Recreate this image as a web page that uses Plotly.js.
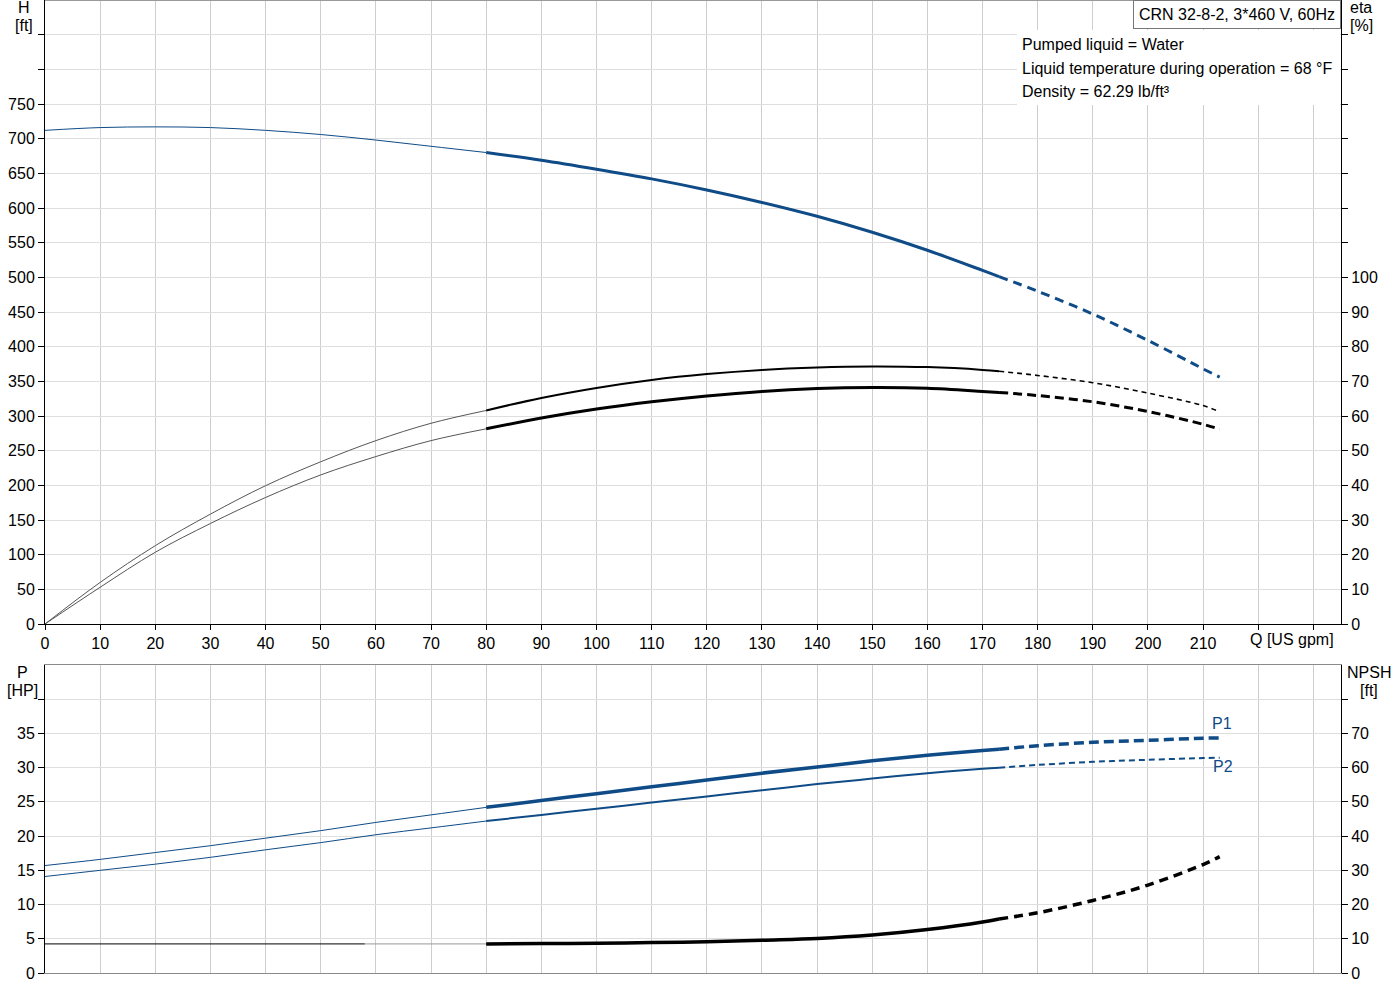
<!DOCTYPE html>
<html><head><meta charset="utf-8">
<script src="https://cdn.plot.ly/plotly-3.0.1.min.js"></script>
<style>html,body{margin:0;padding:0;background:#fff}</style>
</head><body>
<div id="chart" style="width:1400px;height:1000px"></div>
<script>
// ---- Flow values (US gpm) for each curve segment ----
const qThin = [0, 10, 20, 30, 40, 50, 60, 70, 80];
const qMain = [80, 90, 100, 110, 120, 130, 140, 150, 160, 170, 173];
const qExt  = [173, 180, 190, 200, 210, 213];

// ---- Head H [ft] ----
const headThin = [712, 716, 717, 716, 712, 706, 698, 689, 680];
const headMain = [680, 669, 656, 642, 626, 608, 588, 565, 539, 510, 501];
const headExt  = [501, 480, 447, 409, 368, 356];

// ---- Efficiency eta [%] (upper curve and lower curve) ----
const etaUpThin  = [0, 12.0, 22.6, 31.7, 39.9, 46.8, 52.9, 57.9, 61.6];
const etaUpMain  = [61.6, 65.2, 68.1, 70.4, 72.1, 73.3, 74.0, 74.3, 74.1, 73.3, 72.9];
const etaUpExt   = [72.9, 71.7, 69.6, 66.6, 63.0, 61.2];
const etaLowThin = [0, 10.6, 20.7, 29.0, 36.5, 43.0, 48.3, 52.9, 56.3];
const etaLowMain = [56.3, 59.4, 62.0, 64.1, 65.8, 67.1, 67.9, 68.2, 68.0, 67.1, 66.8];
const etaLowExt  = [66.8, 65.9, 64.1, 61.3, 57.6, 56.2];

// ---- Power P1, P2 [HP] ----
const p1Thin = [15.7, 16.6, 17.6, 18.6, 19.7, 20.8, 22.0, 23.1, 24.2];
const p1Main = [24.2, 25.2, 26.2, 27.2, 28.2, 29.2, 30.1, 31.0, 31.8, 32.5, 32.7];
const p1Ext  = [32.7, 33.2, 33.7, 34.0, 34.3, 34.35];
const p2Thin = [14.1, 15.0, 15.9, 16.9, 18.0, 19.05, 20.2, 21.2, 22.2];
const p2Main = [22.2, 23.1, 24.0, 24.9, 25.8, 26.7, 27.6, 28.4, 29.2, 29.85, 30.0];
const p2Ext  = [30.0, 30.4, 30.85, 31.15, 31.4, 31.45];

// ---- NPSH [ft] ----
const qNpshThinA = [0, 58];
const npshThinA  = [8.5, 8.5];
const qNpshThinB = [58, 80];
const npshThinB  = [8.5, 8.5];
const npshMain = [8.5, 8.6, 8.7, 8.9, 9.1, 9.6, 10.1, 11.1, 12.7, 14.9, 15.8];
const npshExt  = [15.8, 17.6, 21.2, 25.7, 31.7, 34.0];

// ---- Tick values / labels ----
const qTicks  = [0,10,20,30,40,50,60,70,80,90,100,110,120,130,140,150,160,170,180,190,200,210,220,230];
const qLabels = ['0','10','20','30','40','50','60','70','80','90','100','110','120','130','140','150','160','170','180','190','200','210','',''];
const hTicks  = [0,50,100,150,200,250,300,350,400,450,500,550,600,650,700,750,800,850];
const hLabels = ['0','50','100','150','200','250','300','350','400','450','500','550','600','650','700','750','',''];
const etaTicks  = [0,10,20,30,40,50,60,70,80,90,100,110,120,130,140,150,160,170];
const etaLabels = ['0','10','20','30','40','50','60','70','80','90','100','','','','','','',''];
const pTicks  = [0,5,10,15,20,25,30,35,40];
const pLabels = ['0','5','10','15','20','25','30','35',''];
const nTicks  = [0,10,20,30,40,50,60,70,80];
const nLabels = ['0','10','20','30','40','50','60','70',''];

const BLUE = '#0f4b87';
const BLACK = '#000000';
const THIN_GRAY = '#555555';

function seg(x, y, xa, ya, color, width, dash) {
  return {x: x, y: y, xaxis: xa, yaxis: ya, type: 'scatter', mode: 'lines',
    line: {color: color, width: width, dash: dash || 'solid', shape: 'spline', smoothing: 1},
    hoverinfo: 'skip', showlegend: false};
}

const traces = [
  // Head
  seg(qThin, headThin, 'x', 'y', BLUE, 1),
  seg(qMain, headMain, 'x', 'y', BLUE, 3),
  seg(qExt, headExt, 'x', 'y', BLUE, 3, '9px,6px'),
  // Efficiency upper
  seg(qThin, etaUpThin, 'x', 'y2', THIN_GRAY, 1),
  seg(qMain, etaUpMain, 'x', 'y2', BLACK, 2),
  seg(qExt, etaUpExt, 'x', 'y2', BLACK, 1.6, '5px,4px'),
  // Efficiency lower
  seg(qThin, etaLowThin, 'x', 'y2', THIN_GRAY, 1),
  seg(qMain, etaLowMain, 'x', 'y2', BLACK, 3),
  seg(qExt, etaLowExt, 'x', 'y2', BLACK, 3, '9px,5px'),
  // P1
  seg(qThin, p1Thin, 'x2', 'y3', BLUE, 1),
  seg(qMain, p1Main, 'x2', 'y3', BLUE, 3.5),
  seg(qExt, p1Ext, 'x2', 'y3', BLUE, 3.5, '10px,5px'),
  // P2
  seg(qThin, p2Thin, 'x2', 'y3', BLUE, 1),
  seg(qMain, p2Main, 'x2', 'y3', BLUE, 2),
  seg(qExt, p2Ext, 'x2', 'y3', BLUE, 2, '6px,4px'),
  // NPSH
  seg(qNpshThinA, npshThinA, 'x2', 'y4', BLACK, 1),
  seg(qNpshThinB, npshThinB, 'x2', 'y4', '#999999', 1),
  seg(qMain, npshMain, 'x2', 'y4', BLACK, 3.5),
  seg(qExt, npshExt, 'x2', 'y4', BLACK, 3.5, '9px,6px')
];

const W = 1400, H = 1000;
const fx = p => p / W;
const fy = p => 1 - p / H;
const FONT = {family: 'Liberation Sans, Arial, sans-serif', size: 16, color: '#000'};
const XGRID = '#cdcdd2';
const YGRID = '#dedede';

function ann(text, x, y, xanchor, extra) {
  return Object.assign({text: text, xref: 'paper', yref: 'paper', x: fx(x), y: fy(y),
    xanchor: xanchor || 'center', yanchor: 'middle', showarrow: false, font: FONT}, extra || {});
}

const layout = {
  width: W, height: H,
  margin: {l: 0, r: 0, t: 0, b: 0},
  paper_bgcolor: '#fff', plot_bgcolor: '#fff',
  font: FONT,
  showlegend: false,
  xaxis: {domain: [fx(45), fx(1341)], range: [0, 235], anchor: 'y',
    tickvals: qTicks, ticktext: qLabels, ticks: 'outside', ticklen: 5, tickcolor: '#000',
    showline: true, linecolor: '#000', linewidth: 1, showgrid: true, gridcolor: XGRID,
    zeroline: false, tickfont: FONT},
  yaxis: {domain: [fy(624), fy(0)], range: [0, 900], anchor: 'x',
    tickvals: hTicks, ticktext: hLabels, ticks: 'outside', ticklen: 6, tickcolor: '#000',
    showline: true, linecolor: '#000', showgrid: true, gridcolor: YGRID, zeroline: false,
    tickfont: FONT},
  yaxis2: {overlaying: 'y', side: 'right', anchor: 'x', range: [0, 180],
    tickvals: etaTicks, ticktext: etaLabels, ticks: 'outside', ticklen: 6, tickcolor: '#000',
    showline: true, linecolor: '#000', showgrid: false, zeroline: false, tickfont: FONT},
  xaxis2: {domain: [fx(45), fx(1341)], range: [0, 235], anchor: 'y3',
    tickvals: qTicks, showticklabels: false, ticks: '',
    showline: true, mirror: true, linecolor: '#8a8a8a', showgrid: true, gridcolor: XGRID,
    zeroline: false},
  yaxis3: {domain: [fy(973), fy(665)], range: [0, 45], anchor: 'x2',
    tickvals: pTicks, ticktext: pLabels, ticks: 'outside', ticklen: 6, tickcolor: '#000',
    showline: true, linecolor: '#000', showgrid: true, gridcolor: YGRID, zeroline: false,
    tickfont: FONT},
  yaxis4: {overlaying: 'y3', side: 'right', anchor: 'x2', range: [0, 90],
    tickvals: nTicks, ticktext: nLabels, ticks: 'outside', ticklen: 6, tickcolor: '#000',
    showline: true, linecolor: '#000', showgrid: false, zeroline: false, tickfont: FONT},
  shapes: [
    {type: 'line', xref: 'paper', yref: 'paper', x0: fx(45), x1: fx(1341), y0: fy(0.5), y1: fy(0.5),
      line: {color: '#9a9a9a', width: 1}, layer: 'above'},
    {type: 'rect', xref: 'paper', yref: 'paper', x0: fx(1017), x1: fx(1340), y0: fy(105), y1: fy(30),
      fillcolor: '#fff', line: {width: 0}, layer: 'above'}
  ],
  annotations: [
    ann('H', 24, 7), ann('[ft]', 24, 25),
    ann('eta', 1361, 7), ann('[%]', 1361, 25),
    ann('Q [US gpm]', 1292, 639),
    ann('P', 22, 672), ann('[HP]', 22, 690),
    ann('NPSH', 1369, 672), ann('[ft]', 1369, 690),
    ann('P1', 1222, 723, 'center', {font: Object.assign({}, FONT, {color: BLUE})}),
    ann('P2', 1223, 766, 'center', {font: Object.assign({}, FONT, {color: BLUE})}),
    ann('CRN 32-8-2, 3*460 V, 60Hz', 1341, 0, 'right',
      {yanchor: 'top', bgcolor: '#fff', bordercolor: '#777', borderwidth: 1, borderpad: 5}),
    ann('Pumped liquid = Water', 1020, 44, 'left'),
    ann('Liquid temperature during operation = 68 °F', 1020, 68, 'left'),
    ann('Density = 62.29 lb/ft³', 1020, 92, 'left')
  ]
};

Plotly.newPlot('chart', traces, layout, {staticPlot: true, displayModeBar: false});
</script>
</body></html>
